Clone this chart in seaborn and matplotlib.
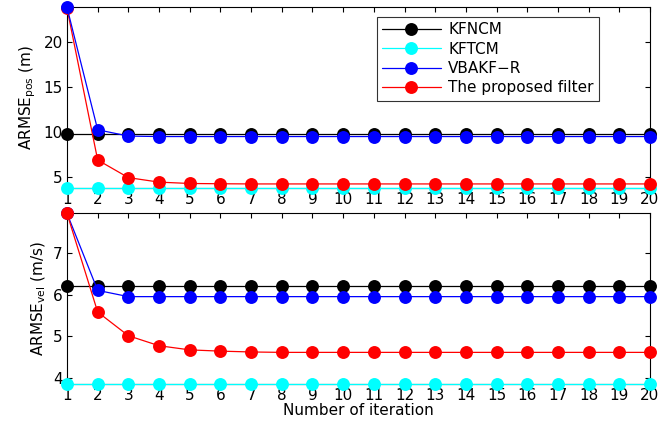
import matplotlib
matplotlib.use("Agg")
import matplotlib.pyplot as plt
import seaborn as sns
import pandas as pd
import numpy as np

iterations = list(range(1, 21))
names = ["KFNCM", "KFTCM", "VBAKF\u2212R", "The proposed filter"]
colors = ["black", "cyan", "blue", "red"]

pos_kfncm = [9.75] * 20
pos_kftcm = [3.8] * 20
pos_vbakf = [23.8, 10.25, 9.55, 9.5, 9.5, 9.5, 9.5, 9.5, 9.5, 9.5,
             9.5, 9.5, 9.5, 9.5, 9.5, 9.5, 9.5, 9.5, 9.5, 9.5]
pos_prop = [23.7, 6.9, 4.95, 4.45, 4.3, 4.27, 4.25, 4.25, 4.25, 4.25,
            4.25, 4.25, 4.25, 4.25, 4.25, 4.25, 4.25, 4.25, 4.25, 4.25]

vel_kfncm = [6.2] * 20
vel_kftcm = [3.85] * 20
vel_vbakf = [7.95, 6.1, 5.95, 5.95, 5.95, 5.95, 5.95, 5.95, 5.95, 5.95,
             5.95, 5.95, 5.95, 5.95, 5.95, 5.95, 5.95, 5.95, 5.95, 5.95]
vel_prop = [7.95, 5.58, 5.01, 4.77, 4.67, 4.64, 4.62, 4.61, 4.61, 4.61,
            4.61, 4.61, 4.61, 4.61, 4.61, 4.61, 4.61, 4.61, 4.61, 4.61]

sns.set_theme(style="ticks")
plt.rcParams["font.family"] = ["DejaVu Sans"]
plt.rcParams["mathtext.default"] = "regular"
for k in ["text.color", "axes.labelcolor", "xtick.color", "ytick.color",
          "xtick.labelcolor", "ytick.labelcolor"]:
    plt.rcParams[k] = "black"
FS = 11

fig = plt.figure(figsize=(6.6, 4.24), dpi=100)
ax1 = fig.add_axes([67/660, 1-188/424, 583/660, 181/424])
ax2 = fig.add_axes([67/660, 1-384/424, 583/660, 171/424])

def draw(ax, series, top_first):
    for i, (nm, col, vals) in enumerate(zip(names, colors, series)):
        z = 3 + i
        if top_first and i == 2:
            z = 10
        df = pd.DataFrame({"it": iterations, "v": vals})
        sns.lineplot(data=df, x="it", y="v", ax=ax, color=col, label=nm,
                     marker="o", markersize=9.3, markeredgewidth=0,
                     linewidth=0.9, clip_on=False, zorder=z)
    ax.set_xlim(1, 20)
    ax.set_xticks(iterations)
    ax.tick_params(direction="in", top=True, right=True, length=3.5,
                   labelsize=FS, width=0.8, pad=3, colors="black")
    for s in ax.spines.values():
        s.set_linewidth(0.8)
        s.set_color("black")
        s.set_zorder(1)
    ax.set_xlabel("")

draw(ax1, [pos_kfncm, pos_kftcm, pos_vbakf, pos_prop], True)
ax1.set_ylim(3.8, 23.85)
ax1.set_yticks([5, 10, 15, 20])
ax1.set_ylabel("ARMSE$_{pos}$ (m)", fontsize=FS)
leg = ax1.legend(loc="upper right", bbox_to_anchor=(532/583, 171/181), fontsize=FS,
                 frameon=True, fancybox=False, edgecolor="black",
                 handlelength=3.8, borderpad=0.35, labelspacing=0.28,
                 handletextpad=0.5, borderaxespad=0)
leg.get_frame().set_linewidth(0.8)
for t in leg.get_texts():
    t.set_color("black")

draw(ax2, [vel_kfncm, vel_kftcm, vel_vbakf, vel_prop], False)
ax2.set_ylim(3.85, 7.96)
ax2.set_yticks([4, 5, 6, 7])
ax2.set_ylabel("ARMSE$_{vel}$ (m/s)", fontsize=FS)
ax2.set_xlabel("Number of iteration", fontsize=FS, labelpad=0)
ax2.get_legend().remove()

fig.savefig("out.png", dpi=100)
